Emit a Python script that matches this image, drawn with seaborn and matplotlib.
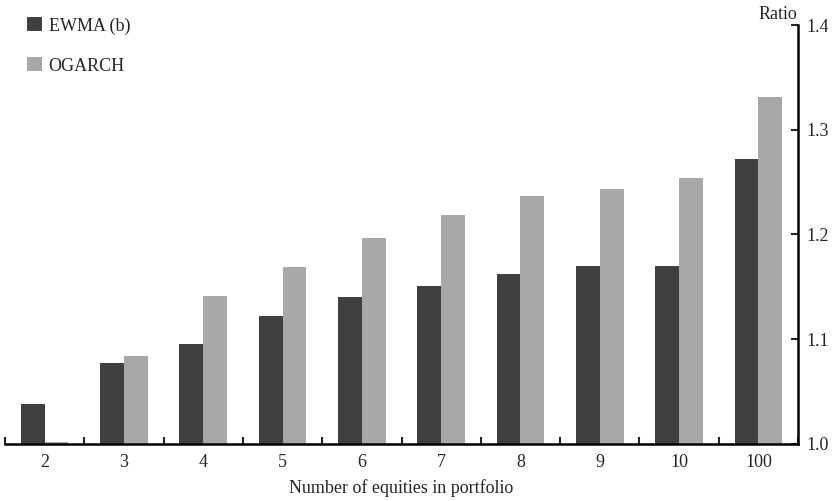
import pandas as pd
import matplotlib.pyplot as plt
import seaborn as sns

categories = ["2", "3", "4", "5", "6", "7", "8", "9", "10", "100"]
ewma = [1.038, 1.077, 1.095, 1.122, 1.140, 1.151, 1.162, 1.170, 1.170, 1.272]
ogarch = [1.002, 1.084, 1.141, 1.169, 1.197, 1.219, 1.237, 1.243, 1.254, 1.331]
series = ["EWMA (b)", "OGARCH"]
colors = ["#404040", "#a7a8aa"]

df = pd.DataFrame({
    "n": categories * 2,
    "ratio": ewma + ogarch,
    "model": [series[0]] * len(categories) + [series[1]] * len(categories),
})

sns.set_style("white")
plt.rcParams["font.family"] = ["Liberation Serif", "DejaVu Serif"]
plt.rcParams["font.size"] = 13

fig = plt.figure(figsize=(8.33, 5.01), dpi=100)
ax = fig.add_axes([0.006, 0.114, 0.952, 0.836])

sns.barplot(data=df, x="n", y="ratio", hue="model", order=categories,
            hue_order=series, palette=colors, width=0.6, saturation=1,
            linewidth=0, ax=ax)

ax.set_ylim(1.0, 1.4)
ax.set_xlim(-0.5, len(categories) - 0.5)
ax.set_yticks([1.0, 1.1, 1.2, 1.3, 1.4])
ax.set_yticklabels(["1.0", "1.1", "1.2", "1.3", "1.4"])
ax.yaxis.tick_right()
ax.tick_params(axis="y", direction="in", length=5, width=1.5, pad=6,
               labelsize=13, right=True, left=False)
ax.tick_params(axis="x", which="major", length=0, pad=7, labelsize=13)
ax.set_xticks([i - 0.5 for i in range(len(categories) + 1)], minor=True)
ax.tick_params(axis="x", which="minor", direction="in", length=5, width=1.5,
               bottom=True)

for side in ["top", "left"]:
    ax.spines[side].set_visible(False)
for side in ["bottom", "right"]:
    ax.spines[side].set_linewidth(1.8)
    ax.spines[side].set_color("black")

ax.set_ylabel("")
ax.set_xlabel("Number of equities in portfolio", fontsize=13, labelpad=6)
fig.text(0.957, 0.962, "Ratio", ha="right", va="baseline", fontsize=13)

leg = ax.legend(loc="upper left", bbox_to_anchor=(27 / 833, 1 - 17 / 501),
                bbox_transform=fig.transFigure, frameon=False,
                handlelength=0.85, handleheight=0.85, handletextpad=0.35,
                labelspacing=1.25, fontsize=13, borderaxespad=0, borderpad=0)

fig.savefig("out.png", dpi=100)
